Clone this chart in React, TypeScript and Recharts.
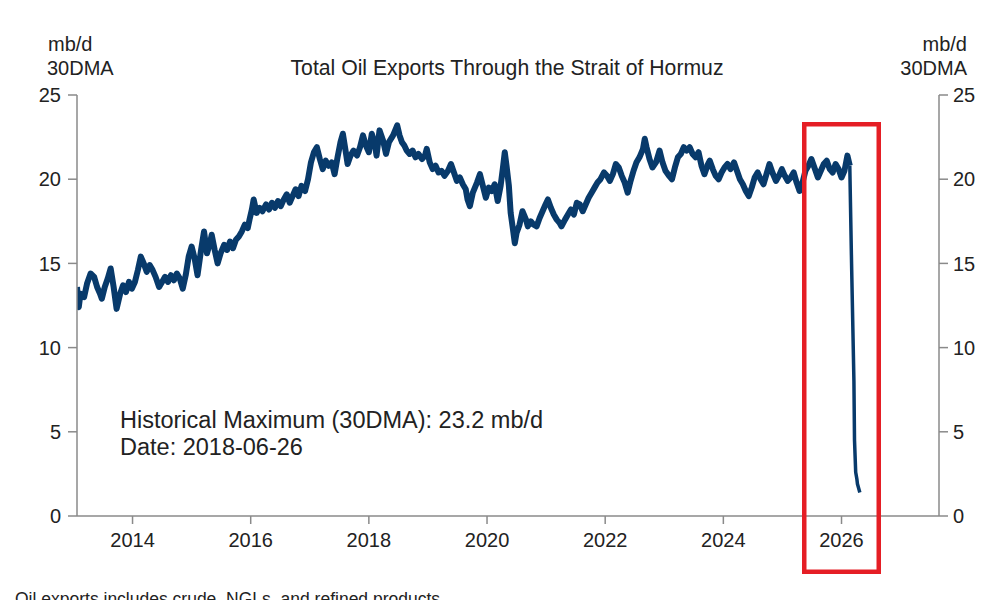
import { Line, LineChart, XAxis, YAxis } from "recharts";

// 30-day moving average, mb/d
const dates = [
  2013.06, 2013.09, 2013.12, 2013.18, 2013.23, 2013.29, 2013.35, 2013.4, 2013.45, 2013.48,
  2013.53, 2013.58, 2013.63, 2013.68, 2013.73, 2013.79, 2013.84, 2013.89, 2013.94, 2013.99,
  2014.04, 2014.09, 2014.14, 2014.19, 2014.24, 2014.29, 2014.34, 2014.39, 2014.45, 2014.5,
  2014.55, 2014.6, 2014.65, 2014.7, 2014.75, 2014.8, 2014.85, 2014.9, 2014.95, 2015.0,
  2015.05, 2015.1, 2015.16, 2015.21, 2015.26, 2015.31, 2015.34, 2015.39, 2015.44, 2015.49,
  2015.55, 2015.6, 2015.65, 2015.7, 2015.75, 2015.8, 2015.85, 2015.9, 2015.95, 2015.98,
  2016.02, 2016.05, 2016.1, 2016.15, 2016.2, 2016.26, 2016.31, 2016.36, 2016.41, 2016.46,
  2016.51, 2016.56, 2016.61, 2016.66, 2016.71, 2016.76, 2016.81, 2016.86, 2016.92, 2016.97,
  2017.02, 2017.07, 2017.12, 2017.17, 2017.22, 2017.27, 2017.32, 2017.37, 2017.42, 2017.47,
  2017.52, 2017.56, 2017.61, 2017.64, 2017.69, 2017.74, 2017.8, 2017.85, 2017.9, 2017.95,
  2018.0, 2018.05, 2018.1, 2018.13, 2018.18, 2018.24, 2018.29, 2018.34, 2018.41, 2018.48,
  2018.52, 2018.56, 2018.6, 2018.64, 2018.69, 2018.74, 2018.79, 2018.84, 2018.9, 2018.95,
  2018.98, 2019.03, 2019.08, 2019.13, 2019.18, 2019.23, 2019.28, 2019.34, 2019.39, 2019.44,
  2019.49, 2019.54, 2019.59, 2019.64, 2019.67, 2019.71, 2019.76, 2019.83, 2019.88, 2019.93,
  2019.98, 2020.03, 2020.08, 2020.13, 2020.18, 2020.23, 2020.27, 2020.3, 2020.33, 2020.37,
  2020.4, 2020.44, 2020.47, 2020.5, 2020.55, 2020.6, 2020.66, 2020.69, 2020.74, 2020.79,
  2020.84, 2020.89, 2020.94, 2020.99, 2021.03, 2021.08, 2021.13, 2021.18, 2021.23, 2021.26,
  2021.32, 2021.37, 2021.42, 2021.47, 2021.52, 2021.57, 2021.62, 2021.67, 2021.72, 2021.77,
  2021.82, 2021.87, 2021.92, 2021.98, 2022.03, 2022.08, 2022.13, 2022.18, 2022.23, 2022.28,
  2022.33, 2022.38, 2022.43, 2022.48, 2022.53, 2022.58, 2022.64, 2022.67, 2022.7, 2022.75,
  2022.8, 2022.86, 2022.92, 2022.97, 2023.02, 2023.08, 2023.13, 2023.18, 2023.23, 2023.28,
  2023.33, 2023.38, 2023.43, 2023.48, 2023.53, 2023.58, 2023.63, 2023.68, 2023.74, 2023.77,
  2023.82, 2023.87, 2023.92, 2023.97, 2024.02, 2024.07, 2024.12, 2024.18, 2024.23, 2024.28,
  2024.33, 2024.38, 2024.43, 2024.48, 2024.53, 2024.58, 2024.63, 2024.68, 2024.73, 2024.78,
  2024.83, 2024.89, 2024.94, 2024.99, 2025.04, 2025.09, 2025.14, 2025.19, 2025.24, 2025.29,
  2025.34, 2025.39, 2025.44, 2025.49, 2025.55, 2025.6, 2025.65, 2025.7, 2025.75, 2025.8,
  2025.85, 2025.9, 2025.95, 2026.0, 2026.05, 2026.1, 2026.14,
];

const mbd = [
  13.6, 12.4, 13.2, 13.0, 13.8, 14.4, 14.2, 13.6, 13.2, 12.9,
  13.6, 14.1, 14.7, 13.6, 12.3, 13.2, 13.7, 13.3, 13.9, 13.5,
  13.9, 14.6, 15.4, 15.0, 14.5, 14.9, 14.6, 14.2, 13.6, 13.9,
  14.2, 13.9, 14.3, 14.0, 14.4, 14.1, 13.5, 14.3, 15.4, 16.0,
  15.3, 14.3, 15.8, 16.9, 15.6, 16.2, 16.7, 15.8, 15.0, 15.6,
  16.1, 15.8, 16.3, 15.9, 16.4, 16.6, 16.9, 17.3, 17.1, 17.6,
  18.2, 18.8, 18.0, 18.3, 18.1, 18.5, 18.2, 18.6, 18.3, 18.7,
  18.4, 18.8, 19.1, 18.6, 19.0, 19.4, 19.0, 19.6, 19.3, 20.0,
  21.0, 21.6, 21.9, 21.2, 20.6, 21.1, 20.8, 21.0, 20.3, 21.3,
  22.2, 22.7, 21.6, 20.9, 21.4, 21.7, 21.4, 21.9, 22.6, 22.0,
  21.6, 22.7, 22.1, 21.4, 22.9, 22.3, 21.5, 22.2, 22.6, 23.2,
  22.6, 22.2, 22.0, 21.7, 21.5, 21.7, 21.3, 21.5, 21.2, 21.4,
  21.8, 21.0, 20.6, 20.8, 20.4, 20.5, 20.2, 20.5, 20.9, 20.4,
  19.9, 20.1, 19.7, 19.4, 18.8, 18.4, 19.2, 19.8, 20.3, 19.6,
  18.9, 19.5, 19.3, 19.7, 18.7, 19.6, 20.7, 21.6, 20.8, 19.6,
  18.0, 17.0, 16.2, 16.8, 17.3, 18.1, 17.6, 17.2, 17.5, 17.3,
  17.2, 17.7, 18.1, 18.5, 18.8, 18.3, 17.9, 17.6, 17.4, 17.2,
  17.6, 17.9, 18.2, 17.9, 18.6, 18.5, 18.1, 18.5, 18.9, 19.2,
  19.5, 19.8, 20.0, 20.4, 20.2, 19.9, 20.3, 20.9, 20.7, 20.2,
  19.8, 19.2, 19.9, 20.5, 21.0, 21.3, 21.8, 22.4, 21.9, 21.2,
  20.7, 21.0, 21.7, 21.0, 20.5, 20.2, 20.0, 20.7, 21.3, 21.5,
  21.9, 21.7, 21.9, 21.5, 21.3, 21.6, 20.8, 20.3, 20.9, 21.1,
  20.6, 20.2, 20.0, 20.4, 20.7, 20.9, 20.6, 21.0, 20.5, 20.0,
  19.7, 19.3, 19.0, 19.5, 20.1, 20.4, 20.0, 19.7, 20.3, 20.9,
  20.4, 19.9, 20.2, 20.6, 20.2, 19.9, 20.1, 20.4, 19.8, 19.3,
  19.8, 20.5, 20.8, 21.2, 20.6, 20.1, 20.5, 20.9, 21.1, 20.6,
  20.4, 20.9, 20.6, 20.1, 20.5, 21.4, 20.8,
];

// collapse in early 2026
const dropDates = [2026.14, 2026.17, 2026.21, 2026.22, 2026.24, 2026.26, 2026.27, 2026.31];
const dropMbd = [20.8, 15.0, 8.0, 4.5, 2.6, 2.2, 1.9, 1.4];

const xTicks = [2014, 2016, 2018, 2020, 2022, 2024, 2026];
const yTicks = [0, 5, 10, 15, 20, 25];

const data = [
  ...dates.map((t, i) => ({ t, main: mbd[i] })),
  ...dropDates.map((t, i) => ({ t, drop: dropMbd[i] })),
];

const FONT = '"Liberation Sans", Arial, sans-serif';
const INK = "#222222";
const AXIS = "#8a8a8a";
const NAVY = "#083a6b";

const tick = { fill: INK, fontSize: 20, fontFamily: FONT };

export default function App() {
  return (
    <div
      style={{
        position: "fixed",
        left: 0,
        top: 0,
        width: 1000,
        height: 600,
        overflow: "hidden",
        background: "#fff",
        fontFamily: FONT,
      }}
    >
      <LineChart
        width={1000}
        height={600}
        data={data}
        margin={{ top: 95, right: 1, bottom: 44, left: 17 }}
      >
        <XAxis
          dataKey="t"
          type="number"
          domain={[2013.06, 2027.65]}
          ticks={xTicks}
          allowDataOverflow
          height={40}
          tick={tick}
          tickSize={8}
          tickMargin={9}
          stroke={AXIS}
          strokeWidth={1.5}
          tickLine={{ stroke: AXIS, strokeWidth: 1.5 }}
        />
        <YAxis
          yAxisId="l"
          domain={[0, 25]}
          ticks={yTicks}
          width={60}
          tick={tick}
          tickSize={9}
          tickMargin={7}
          stroke={AXIS}
          strokeWidth={1.5}
          tickLine={{ stroke: AXIS, strokeWidth: 1.5 }}
        />
        <YAxis
          yAxisId="r"
          orientation="right"
          domain={[0, 25]}
          ticks={yTicks}
          width={60}
          tick={tick}
          tickSize={9}
          tickMargin={5}
          stroke={AXIS}
          strokeWidth={1.5}
          tickLine={{ stroke: AXIS, strokeWidth: 1.5 }}
        />
        <Line
          yAxisId="l"
          dataKey="main"
          type="linear"
          stroke={NAVY}
          strokeWidth={6}
          strokeLinejoin="round"
          dot={false}
          isAnimationActive={false}
        />
        <Line
          yAxisId="r"
          dataKey="drop"
          type="linear"
          stroke={NAVY}
          strokeWidth={3.5}
          strokeLinejoin="round"
          dot={false}
          isAnimationActive={false}
        />
      </LineChart>

      <svg
        width={1000}
        height={600}
        style={{ position: "absolute", left: 0, top: 0, pointerEvents: "none" }}
        fontFamily={FONT}
        fill={INK}
      >
        <text x={48} y={51} fontSize={20}>mb/d</text>
        <text x={47} y={75} fontSize={20}>30DMA</text>
        <text x={967} y={51} fontSize={20} textAnchor="end">mb/d</text>
        <text x={967} y={75} fontSize={20} textAnchor="end">30DMA</text>
        <text x={507} y={75} fontSize={21.2} textAnchor="middle">
          Total Oil Exports Through the Strait of Hormuz
        </text>
        <text x={120} y={428} fontSize={23.5}>Historical Maximum (30DMA): 23.2 mb/d</text>
        <text x={120} y={455} fontSize={23.5}>Date: 2018-06-26</text>
        <rect x={804.25} y={124.25} width={74.5} height={447.5} fill="none" stroke="#e51e25" strokeWidth={4.5} />
        <text x={15} y={605} fontSize={17.5}>Oil exports includes crude, NGLs, and refined products</text>
      </svg>
    </div>
  );
}
